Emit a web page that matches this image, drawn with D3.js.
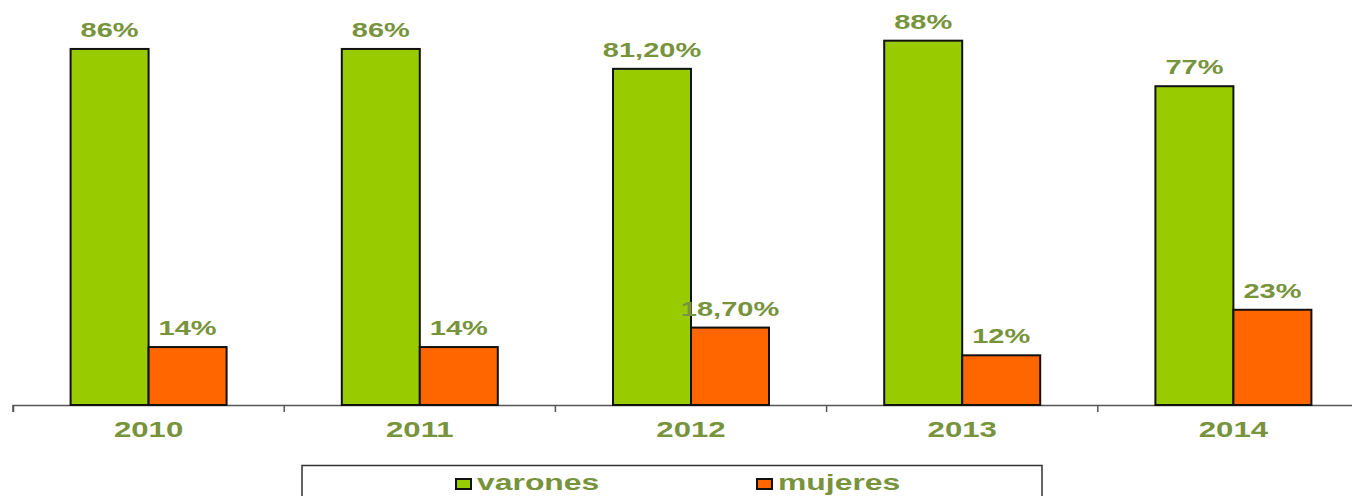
<!DOCTYPE html>
<html>
<head>
<meta charset="utf-8">
<script src="https://cdn.jsdelivr.net/npm/d3@7"></script>
<style>
  html, body { margin: 0; padding: 0; background: #fff; }
  svg { display: block; }
  text { font-family: "Liberation Sans", Arial, sans-serif; font-weight: bold; }
</style>
</head>
<body>
<svg id="chart" width="1352" height="496"></svg>
<script>
const years = ["2010", "2011", "2012", "2013", "2014"];
const seriesNames = ["varones", "mujeres"];
const varones = [86, 86, 81.2, 88, 77];
const mujeres = [14, 14, 18.7, 12, 23];
const varonesLabels = ["86%", "86%", "81,20%", "88%", "77%"];
const mujeresLabels = ["14%", "14%", "18,70%", "12%", "23%"];
const colors = ["#99CC00", "#FF6600"];

const svg = d3.select("#chart");
const textColor = "#77933C";
const SX = 1.45;

const baseY = 405;
const x0 = d3.scaleBand().domain(years).range([13, 13 + 5 * 271.2]).padding(0);
const groupW = 156;
const x1 = d3.scaleBand().domain(seriesNames).range([0, groupW]).padding(0);
const y = d3.scaleLinear().domain([0, 100]).range([baseY, baseY - 414]);

const data = years.map((yr, i) => ({
  year: yr,
  vals: [
    { key: "varones", v: varones[i], label: varonesLabels[i], color: colors[0] },
    { key: "mujeres", v: mujeres[i], label: mujeresLabels[i], color: colors[1] }
  ]
}));

function stretchedText(parent, x, yPos, str, size, anchor) {
  const g = parent.append("g").attr("transform", `translate(${x},${yPos})`);
  g.append("text")
    .attr("transform", `scale(${SX},1)`)
    .attr("text-anchor", anchor || "middle")
    .attr("font-size", size)
    .attr("fill", textColor)
    .text(str);
  return g;
}

// Axis
const axis = d3.axisBottom(x0).tickSizeInner(7).tickSizeOuter(7).tickFormat("");
const axG = svg.append("g").attr("transform", `translate(0,${baseY})`).call(axis);
axG.select(".domain").attr("stroke", "#555").attr("stroke-width", 1.5);
axG.selectAll(".tick").remove();
years.forEach(yr => {
  axG.append("line")
    .attr("x1", x0(yr)).attr("x2", x0(yr))
    .attr("y1", 0).attr("y2", 7)
    .attr("stroke", "#555").attr("stroke-width", 1.5);
});

// Bars
const groups = svg.selectAll("g.grp").data(data).enter().append("g")
  .attr("class", "grp")
  .attr("transform", d => `translate(${x0(d.year) + (x0.bandwidth() - groupW) / 2},0)`);

groups.selectAll("rect").data(d => d.vals).enter().append("rect")
  .attr("x", d => x1(d.key))
  .attr("y", d => y(d.v))
  .attr("width", x1.bandwidth())
  .attr("height", d => baseY - y(d.v))
  .attr("fill", d => d.color)
  .attr("stroke", "#111")
  .attr("stroke-width", 2);

groups.each(function(d) {
  const g = d3.select(this);
  d.vals.forEach(v => {
    stretchedText(g, x1(v.key) + x1.bandwidth() / 2, y(v.v) - 12, v.label, 20, "middle");
  });
});

// Category labels
years.forEach(yr => {
  stretchedText(svg, x0(yr) + x0.bandwidth() / 2, 437, yr, 21.5, "middle");
});

// Legend
svg.append("rect")
  .attr("x", 302).attr("y", 465.5)
  .attr("width", 740).attr("height", 60)
  .attr("fill", "#fff")
  .attr("stroke", "#333").attr("stroke-width", 1.5);

const legendX = [456, 757];
seriesNames.forEach((s, i) => {
  svg.append("rect")
    .attr("x", legendX[i]).attr("y", 479)
    .attr("width", 15).attr("height", 10)
    .attr("fill", colors[i])
    .attr("stroke", "#111").attr("stroke-width", 2);
  stretchedText(svg, legendX[i] + 21, 490, s, 22, "start");
});
</script>
</body>
</html>
